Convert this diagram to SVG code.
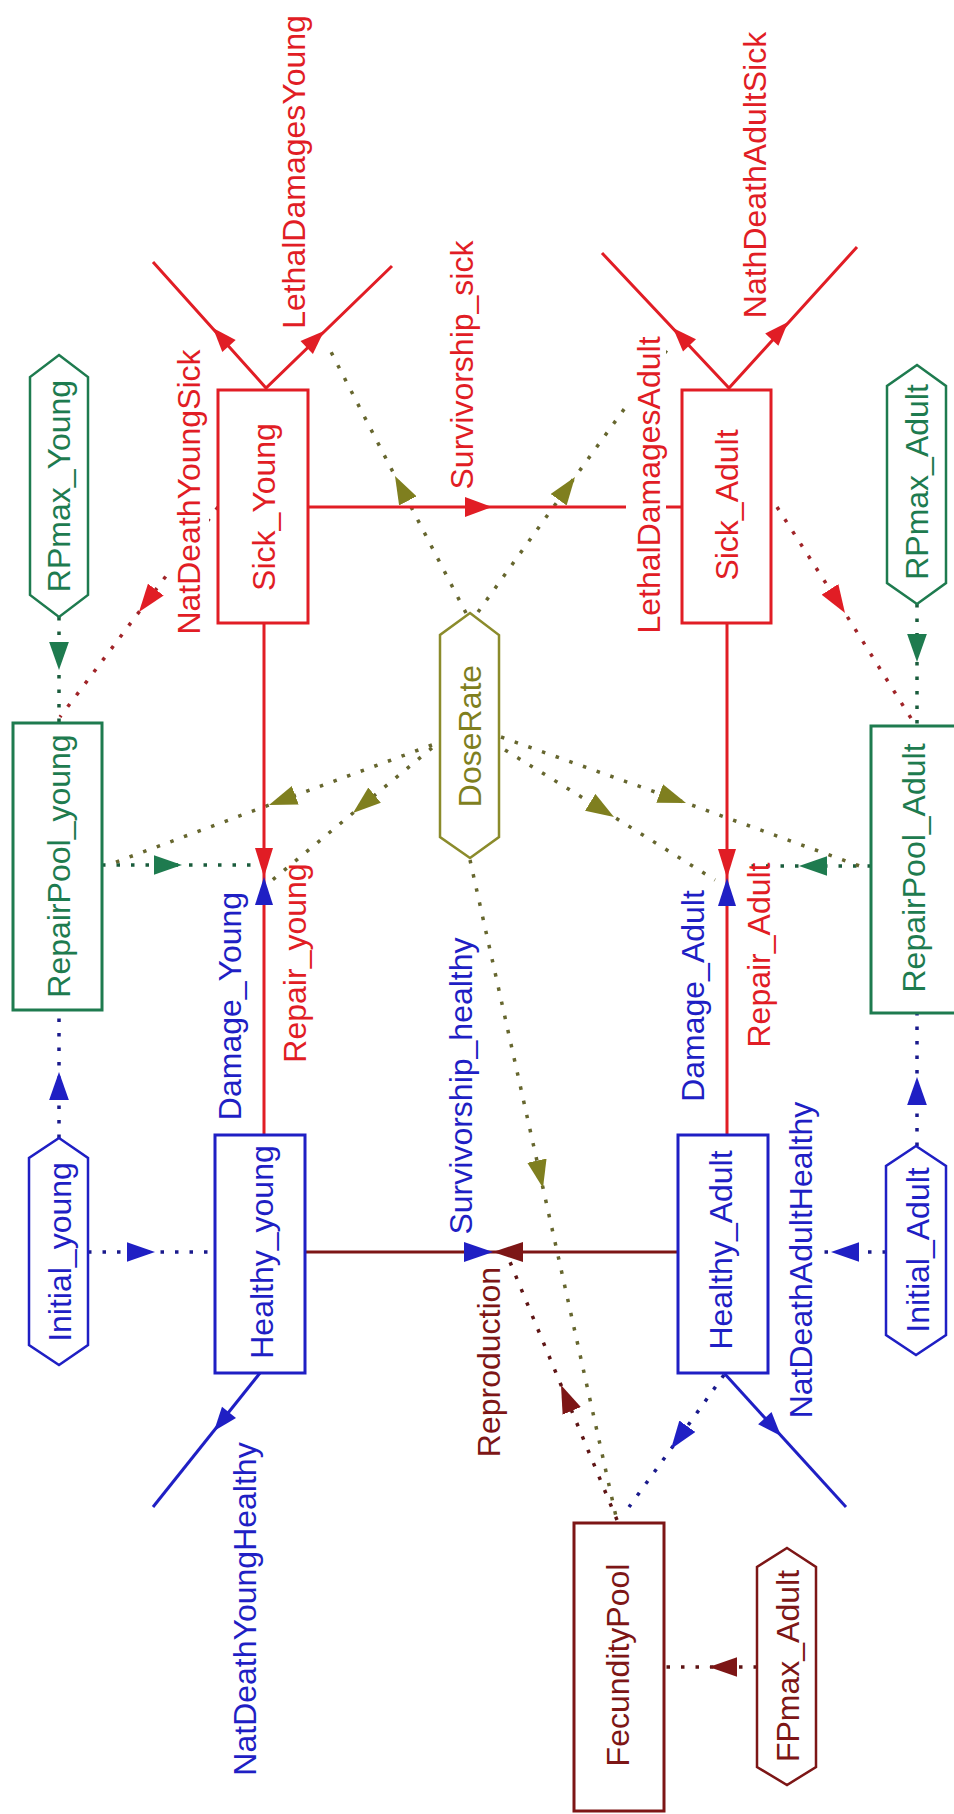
<svg xmlns="http://www.w3.org/2000/svg" width="954" height="1814" viewBox="0 0 954 1814">
<style>
text{font-family:"Liberation Sans",Arial,sans-serif;font-size:32px;text-anchor:middle}
.dot{fill:none;stroke-width:3.5;stroke-dasharray:3.5 11}
.flow{fill:none;stroke-width:3}
.stock{fill:#fff;stroke-width:3}
.conv{fill:#fff;stroke-width:2.5}
.bg{fill:#fff}
</style>
<defs>
<marker id="aR" markerUnits="userSpaceOnUse" markerWidth="28" markerHeight="20" viewBox="0 0 27 19" refX="27" refY="9.5" orient="auto"><path d="M0,0 L27,9.5 L0,19 z" fill="#e11d25"/></marker>
<marker id="aG" markerUnits="userSpaceOnUse" markerWidth="28" markerHeight="20" viewBox="0 0 27 19" refX="27" refY="9.5" orient="auto"><path d="M0,0 L27,9.5 L0,19 z" fill="#1e7b4f"/></marker>
<marker id="aO" markerUnits="userSpaceOnUse" markerWidth="28" markerHeight="20" viewBox="0 0 27 19" refX="27" refY="9.5" orient="auto"><path d="M0,0 L27,9.5 L0,19 z" fill="#7f7f1f"/></marker>
<marker id="aB" markerUnits="userSpaceOnUse" markerWidth="28" markerHeight="20" viewBox="0 0 27 19" refX="27" refY="9.5" orient="auto"><path d="M0,0 L27,9.5 L0,19 z" fill="#1f1fc4"/></marker>
<marker id="aM" markerUnits="userSpaceOnUse" markerWidth="28" markerHeight="20" viewBox="0 0 27 19" refX="27" refY="9.5" orient="auto"><path d="M0,0 L27,9.5 L0,19 z" fill="#7d1616"/></marker>
</defs>
<rect width="954" height="1814" fill="#fff"/>

<g id="connectors">
<!-- dotted information links -->
<path class="dot" stroke="#1a5c3c" marker-mid="url(#aG)" d="M59,617 L59,670 L59,723"/>
<path class="dot" stroke="#1a5c3c" marker-mid="url(#aG)" d="M917,604 L917,662 L917,726"/>
<path class="dot" stroke="#1a5c3c" marker-mid="url(#aG)" d="M102,865 L182,865 L258,865"/>
<path class="dot" stroke="#1a5c3c" marker-mid="url(#aG)" d="M871,866 L799,866 L741,866"/>
<path class="dot" stroke="#a02428" marker-mid="url(#aR)" d="M218,507 L139,612 L60,717"/>
<path class="dot" stroke="#a02428" marker-mid="url(#aR)" d="M777,507 L845,613 L914,723"/>
<path class="dot" stroke="#66662e" marker-mid="url(#aO)" d="M466,613 L395,476 L330,350"/>
<path class="dot" stroke="#66662e" marker-mid="url(#aO)" d="M478,612 L575,477 L672,343"/>
<path class="dot" stroke="#66662e" marker-mid="url(#aO)" d="M432,745 L269,805 L108,865"/>
<path class="dot" stroke="#66662e" marker-mid="url(#aO)" d="M432,748 L353,813 L270,882"/>
<path class="dot" stroke="#66662e" marker-mid="url(#aO)" d="M501,737 L686,803 L868,869"/>
<path class="dot" stroke="#66662e" marker-mid="url(#aO)" d="M505,750 L614,817 L715,880"/>
<path class="dot" stroke="#66662e" marker-mid="url(#aO)" d="M470,860 L543,1188 L617,1521"/>
<path class="dot" stroke="#5e1414" marker-mid="url(#aM)" d="M617,1520 L561,1385 L510,1262"/>
<path class="dot" stroke="#1a1a8c" marker-mid="url(#aB)" d="M724,1375 L671,1449 L629,1507"/>
<path class="dot" stroke="#5e1414" marker-mid="url(#aM)" d="M757,1667 L709,1667 L664,1667"/>
<path class="dot" stroke="#1a1a8c" marker-mid="url(#aB)" d="M886,1252 L831,1252 L770,1252"/>
<path class="dot" stroke="#1a1a8c" marker-mid="url(#aB)" d="M917,1146 L917,1077 L917,1014"/>
<path class="dot" stroke="#1a1a8c" marker-mid="url(#aB)" d="M59,1138 L59,1072 L59,1010"/>
<path class="dot" stroke="#1a1a8c" marker-mid="url(#aB)" d="M88,1252 L155,1252 L215,1252"/>

<!-- material flows -->
<path class="flow" stroke="#e11d25" d="M308,507 L626,507 M666,507 L682,507"/>
<polygon fill="#e11d25" points="465,497 492,507 465,517"/>
<path class="flow" stroke="#7d1616" d="M305,1252 L678,1252"/>
<polygon fill="#1f1fc4" points="464,1242 493,1252 464,1262"/>
<polygon fill="#7d1616" points="523,1242 493,1252 523,1262"/>
<path class="flow" stroke="#e11d25" d="M264,623 L264,1135"/>
<polygon fill="#e11d25" points="255,848 264,877 273,848"/>
<polygon fill="#1f1fc4" points="255,905 264,877 273,905"/>
<path class="flow" stroke="#e11d25" d="M727,623 L727,1135"/>
<polygon fill="#e11d25" points="718,849 727,878 736,849"/>
<polygon fill="#1f1fc4" points="718,906 727,878 736,906"/>
<path class="flow" stroke="#e11d25" d="M153,262 L266,388 L392,266"/>
<polygon fill="#e11d25" points="213,328 235.7,339.9 222.3,351.9"/>
<polygon fill="#e11d25" points="324,331 312.9,354.1 300.5,341.1"/>
<path class="flow" stroke="#e11d25" d="M602,253 L729,388 L857,247"/>
<polygon fill="#e11d25" points="673,328 696,339.2 683,351.6"/>
<polygon fill="#e11d25" points="788,322 778.4,345.8 765.2,333.6"/>
<path class="flow" stroke="#1f1fc4" d="M260,1373 L153,1507"/>
<polygon fill="#1f1fc4" points="214,1431 236,1417.9 222,1406.7"/>
<path class="flow" stroke="#1f1fc4" d="M724,1373 L846,1507"/>
<polygon fill="#1f1fc4" points="781,1436 771.5,1412.1 758.1,1424.3"/>
</g>

<g id="flow-LethalDamagesYoung"><text fill="#e11d25" transform="translate(305,172) rotate(-90)">LethalDamagesYoung</text></g>
<g id="flow-NatDeathYoungSick"><rect class="bg" x="170" y="344" width="39" height="296"/><text fill="#e11d25" transform="translate(200,492) rotate(-90)">NatDeathYoungSick</text></g>
<g id="flow-Survivorship_sick"><text fill="#e11d25" transform="translate(473,365) rotate(-90)">Survivorship_sick</text></g>
<g id="flow-LethalDamagesAdult"><rect class="bg" x="627" y="334" width="39" height="302"/><text fill="#e11d25" transform="translate(660,485) rotate(-90)">LethalDamagesAdult</text></g>
<g id="flow-NathDeathAdultSick"><text fill="#e11d25" transform="translate(766,175) rotate(-90)">NathDeathAdultSick</text></g>
<g id="flow-Damage_Young"><text fill="#1f1fc4" transform="translate(241,1006) rotate(-90)">Damage_Young</text></g>
<g id="flow-Repair_young"><text fill="#e11d25" transform="translate(306,963) rotate(-90)">Repair_young</text></g>
<g id="flow-Damage_Adult"><text fill="#1f1fc4" transform="translate(704,996) rotate(-90)">Damage_Adult</text></g>
<g id="flow-Repair_Adult"><text fill="#e11d25" transform="translate(770,955) rotate(-90)">Repair_Adult</text></g>
<g id="flow-Survivorship_healthy"><text fill="#1f1fc4" transform="translate(472,1086) rotate(-90)">Survivorship_healthy</text></g>
<g id="flow-Reproduction"><text fill="#7d1616" transform="translate(500,1362) rotate(-90)">Reproduction</text></g>
<g id="flow-NatDeathYoungHealthy"><text fill="#1f1fc4" transform="translate(256,1609) rotate(-90)">NatDeathYoungHealthy</text></g>
<g id="flow-NatDeathAdultHealthy"><rect class="bg" x="781" y="1098" width="42" height="324"/><text fill="#1f1fc4" transform="translate(812,1260) rotate(-90)">NatDeathAdultHealthy</text></g>

<g id="Sick_Young"><rect class="stock" stroke="#e11d25" x="218" y="390" width="90" height="233"/><text fill="#e11d25" transform="translate(275,507) rotate(-90)">Sick_Young</text></g>
<g id="Sick_Adult"><rect class="stock" stroke="#e11d25" x="682" y="390" width="89" height="233"/><text fill="#e11d25" transform="translate(738,505) rotate(-90)">Sick_Adult</text></g>
<g id="RepairPool_young"><rect class="stock" stroke="#1e7b4f" x="13" y="723" width="89" height="287"/><text fill="#1e7b4f" transform="translate(70,866) rotate(-90)">RepairPool_young</text></g>
<g id="RepairPool_Adult"><rect class="stock" stroke="#1e7b4f" x="871" y="726" width="100" height="287"/><text fill="#1e7b4f" transform="translate(925,868) rotate(-90)">RepairPool_Adult</text></g>
<g id="Healthy_young"><rect class="stock" stroke="#1f1fc4" x="215" y="1135" width="90" height="238"/><text fill="#1f1fc4" transform="translate(273,1252) rotate(-90)">Healthy_young</text></g>
<g id="Healthy_Adult"><rect class="stock" stroke="#1f1fc4" x="678" y="1135" width="90" height="238"/><text fill="#1f1fc4" transform="translate(732,1250) rotate(-90)">Healthy_Adult</text></g>
<g id="FecundityPool"><rect class="stock" stroke="#7d1616" x="574" y="1523" width="90" height="288"/><text fill="#7d1616" transform="translate(629,1665) rotate(-90)">FecundityPool</text></g>

<g id="RPmax_Young"><polygon class="conv" stroke="#1e7b4f" points="59,355 88,377 88,595 59,617 30,595 30,377"/><text fill="#1e7b4f" transform="translate(70,486) rotate(-90)">RPmax_Young</text></g>
<g id="RPmax_Adult"><polygon class="conv" stroke="#1e7b4f" points="917,365 946,386 946,583 917,604 887,583 887,386"/><text fill="#1e7b4f" transform="translate(928,482) rotate(-90)">RPmax_Adult</text></g>
<g id="DoseRate"><polygon class="conv" stroke="#8b8b2b" points="470,613 499,635 499,837 470,858 440,837 440,635"/><text fill="#7f7f1f" transform="translate(481,736) rotate(-90)">DoseRate</text></g>
<g id="Initial_young"><polygon class="conv" stroke="#1f1fc4" points="59,1138 88,1158 88,1345 59,1365 29,1345 29,1158"/><text fill="#1f1fc4" transform="translate(71,1252) rotate(-90)">Initial_young</text></g>
<g id="Initial_Adult"><polygon class="conv" stroke="#1f1fc4" points="916,1146 946,1166 946,1335 916,1355 886,1335 886,1166"/><text fill="#1f1fc4" transform="translate(929,1250) rotate(-90)">Initial_Adult</text></g>
<g id="FPmax_Adult"><polygon class="conv" stroke="#7d1616" points="787,1548 816,1567 816,1767 787,1785 757,1767 757,1567"/><text fill="#7d1616" transform="translate(799,1666) rotate(-90)">FPmax_Adult</text></g>
</svg>
